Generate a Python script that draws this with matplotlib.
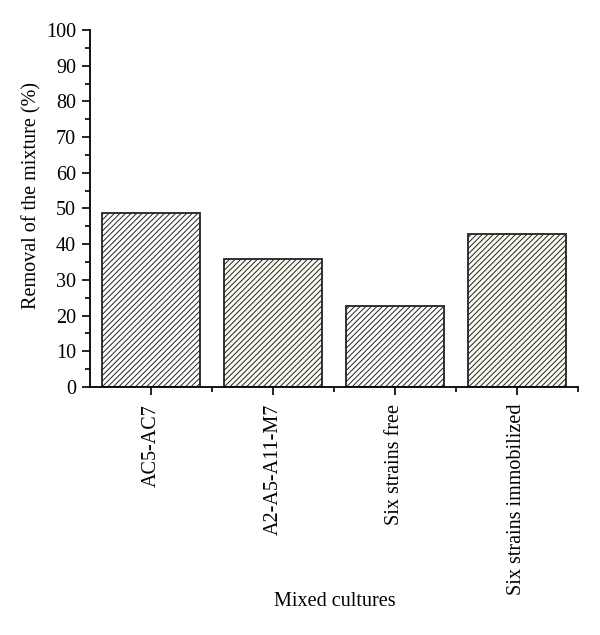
import matplotlib
matplotlib.use("Agg")
import matplotlib.pyplot as plt
from matplotlib.ticker import MultipleLocator, FixedLocator

categories = ["AC5-AC7", "A2-A5-A11-M7", "Six strains free", "Six strains immobilized"]
values = [48.6, 35.9, 22.8, 42.9]
facecolors = ["#ffffff", "#fbfbf0", "#ffffff", "#fbfbf0"]

plt.rcParams["font.family"] = ["Liberation Serif", "DejaVu Serif"]
plt.rcParams["hatch.linewidth"] = 0.7
plt.rcParams["hatch.color"] = "#555555"

fig = plt.figure(figsize=(6, 6.35), dpi=100)
ax = fig.add_axes([0.15, 0.3906, 0.813, 0.5622])

x = list(range(len(categories)))
ax.bar(x, values, width=0.8, color=facecolors, edgecolor="#222222",
       linewidth=1.3, hatch="//////")

ax.set_xlim(-0.5, 3.5)
ax.set_ylim(0, 100)
ax.yaxis.set_major_locator(MultipleLocator(10))
ax.yaxis.set_minor_locator(MultipleLocator(5))
ax.set_xticks(x)
ax.set_xticklabels(categories, rotation=90, fontsize=14.5)
ax.xaxis.set_minor_locator(FixedLocator([0.5, 1.5, 2.5, 3.5]))

for s in ["top", "right"]:
    ax.spines[s].set_visible(False)
for s in ["left", "bottom"]:
    ax.spines[s].set_linewidth(1.3)

ax.tick_params(axis="both", which="major", direction="out", length=6, width=1.2, labelsize=14.5)
ax.tick_params(axis="both", which="minor", direction="out", length=3.5, width=1.2)
ax.tick_params(axis="y", pad=4)
ax.tick_params(axis="x", pad=6)

ax.set_ylabel("Removal of the mixture (%)", fontsize=14.5)
ax.yaxis.set_label_coords(-0.10, 0.535)
fig.text(0.558, 0.052, "Mixed cultures", ha="center", va="center", fontsize=14.5)

fig.savefig("out.png", dpi=100)
